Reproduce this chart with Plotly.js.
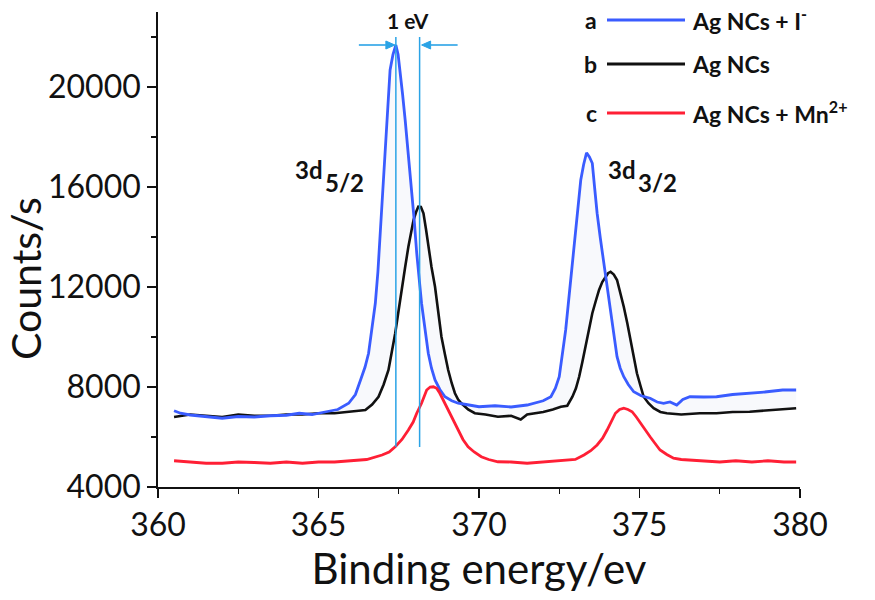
<!DOCTYPE html>
<html>
<head>
<meta charset="utf-8">
<script src="https://cdn.plot.ly/plotly-3.0.1.min.js"></script>
<style>
  html, body { margin: 0; padding: 0; background: #fff; }
  #chart { width: 875px; height: 600px; }
</style>
</head>
<body>
<div id="chart"></div>
<script>
// ---- Data ----
const xA = [360.5, 360.7, 361.0, 361.5, 362.0, 362.5, 363.0, 363.5, 364.0, 364.4, 364.8, 365.2, 365.6, 365.94, 366.15, 366.31, 366.45, 366.56, 366.67, 366.77, 366.85, 366.92, 367.0, 367.08, 367.16, 367.23, 367.32, 367.41, 367.48, 367.54, 367.62, 367.70, 367.80, 367.90, 367.98, 368.06, 368.13, 368.21, 368.32, 368.42, 368.52, 368.63, 368.78, 368.94, 369.15, 369.35, 369.6, 370.0, 370.5, 371.0, 371.5, 372.0, 372.24, 372.38, 372.50, 372.60, 372.70, 372.78, 372.86, 372.94, 373.01, 373.09, 373.17, 373.26, 373.35, 373.44, 373.53, 373.60, 373.68, 373.78, 373.89, 374.0, 374.10, 374.20, 374.30, 374.40, 374.51, 374.65, 374.82, 375.05, 375.33, 375.55, 375.75, 375.95, 376.16, 376.35, 376.57, 377.0, 377.4, 377.9, 378.43, 378.9, 379.46, 379.88];
const yA = [7050, 6950, 6880, 6800, 6750, 6820, 6800, 6850, 6870, 6950, 6900, 7000, 7100, 7350, 7700, 8280, 8800, 9350, 10300, 11350, 12600, 14000, 15700, 17350, 19000, 20680, 21300, 21680, 21300, 20680, 19700, 18680, 17350, 16000, 14700, 13350, 12300, 11350, 10300, 9350, 8750, 8280, 7900, 7610, 7450, 7350, 7300, 7210, 7250, 7200, 7280, 7450, 7610, 7950, 8410, 9300, 10280, 11300, 12280, 13300, 14280, 15300, 16280, 16900, 17370, 17200, 16950, 16000, 14950, 13950, 12950, 11900, 10950, 10000, 9210, 8750, 8410, 8100, 7810, 7650, 7550, 7400, 7350, 7400, 7280, 7500, 7610, 7600, 7610, 7700, 7750, 7800, 7880, 7880];

const xB = [360.5, 361.0, 361.5, 362.0, 362.5, 363.0, 363.5, 364.0, 364.5, 365.0, 365.5, 366.0, 366.25, 366.46, 366.67, 366.87, 367.03, 367.18, 367.29, 367.39, 367.50, 367.60, 367.70, 367.80, 367.88, 367.96, 368.04, 368.11, 368.19, 368.27, 368.35, 368.42, 368.52, 368.63, 368.73, 368.83, 368.94, 369.04, 369.15, 369.25, 369.35, 369.45, 369.66, 369.87, 370.2, 370.59, 371.0, 371.3, 371.5, 371.72, 372.0, 372.3, 372.55, 372.75, 372.91, 373.02, 373.12, 373.22, 373.32, 373.43, 373.53, 373.64, 373.74, 373.84, 373.94, 374.02, 374.10, 374.20, 374.30, 374.40, 374.51, 374.62, 374.72, 374.82, 374.92, 375.03, 375.13, 375.28, 375.44, 375.65, 375.85, 376.3, 376.88, 377.4, 377.9, 378.43, 378.9, 379.4, 379.88];
const yB = [6800, 6900, 6850, 6800, 6900, 6850, 6850, 6900, 6900, 6950, 6950, 7000, 7050, 7080, 7300, 7610, 8100, 8680, 9400, 10150, 11100, 12010, 12800, 13610, 14200, 14680, 15000, 15210, 15200, 14950, 14300, 13610, 12800, 12010, 11000, 10010, 9300, 8680, 8150, 7750, 7500, 7350, 7100, 6950, 6900, 6810, 6850, 6700, 6900, 6950, 7000, 7100, 7210, 7250, 7610, 7950, 8410, 9000, 9610, 10300, 10950, 11450, 11880, 12200, 12410, 12550, 12610, 12500, 12280, 11800, 11210, 10550, 9880, 9200, 8550, 8050, 7610, 7350, 7150, 7000, 6950, 6900, 6950, 6950, 7000, 7010, 7050, 7100, 7150];

const xC = [360.5, 361.0, 361.5, 362.0, 362.5, 363.0, 363.5, 364.0, 364.5, 365.0, 365.5, 366.0, 366.5, 366.98, 367.2, 367.39, 367.6, 367.80, 367.95, 368.06, 368.21, 368.37, 368.48, 368.58, 368.68, 368.78, 368.9, 369.04, 369.2, 369.35, 369.5, 369.66, 369.85, 370.07, 370.3, 370.59, 371.0, 371.5, 372.0, 372.4, 372.75, 373.0, 373.27, 373.48, 373.68, 373.85, 373.99, 374.12, 374.25, 374.38, 374.51, 374.64, 374.77, 374.9, 375.03, 375.18, 375.33, 375.48, 375.64, 375.85, 376.06, 376.3, 376.57, 377.0, 377.5, 378.0, 378.5, 379.0, 379.5, 379.88];
const yC = [5050, 5000, 4950, 4950, 5000, 4980, 4950, 5000, 4950, 5000, 5000, 5050, 5100, 5280, 5400, 5610, 5900, 6280, 6600, 6950, 7350, 7880, 8000, 8010, 7950, 7750, 7450, 7080, 6700, 6280, 5900, 5610, 5400, 5210, 5100, 5010, 5000, 4950, 5000, 5050, 5080, 5100, 5280, 5450, 5680, 5950, 6280, 6650, 6950, 7100, 7150, 7100, 7010, 6800, 6550, 6300, 6010, 5750, 5480, 5300, 5150, 5100, 5080, 5050, 5000, 5050, 5000, 5050, 5000, 5000];

const seriesLetters = ['a', 'b', 'c'];
const seriesNames = ['Ag NCs + I<sup>-</sup>', 'Ag NCs', 'Ag NCs + Mn<sup>2+</sup>'];
const seriesColors = ['#3a5cff', '#111111', '#ff1f35'];

// peak positions marked by the vertical guide lines (eV) and shift label
const shiftLines = [367.41, 368.15];
const shiftLineSpan = [5600, 22000];
const shiftLabel = '1 eV';
const peakLabels = [
  { main: '3d', sub: '5/2', x: 364.22, xs: 365.15 },
  { main: '3d', sub: '3/2', x: 373.97, xs: 374.9 }
];

const xTicks = [360, 365, 370, 375, 380];
const yTicks = [4000, 8000, 12000, 16000, 20000];
const xTitle = 'Binding energy/ev';
const yTitle = 'Counts/s';

// ---- Traces ----
const traces = [
  { x: xB, y: yB, type: 'scatter', mode: 'lines', name: seriesNames[1],
    line: { color: seriesColors[1], width: 2.6 } },
  { x: xA, y: yA, type: 'scatter', mode: 'lines', name: seriesNames[0],
    line: { color: seriesColors[0], width: 2.8 }, fill: 'tonexty',
    fillcolor: 'rgba(175,185,225,0.09)' },
  { x: xC, y: yC, type: 'scatter', mode: 'lines', name: seriesNames[2],
    line: { color: seriesColors[2], width: 2.8 } }
];

const FONT = 'Lato, "Open Sans", "DejaVu Sans", sans-serif';
const guideColor = '#2aa3e6';

const W = 875, H = 600, ML = 158, MR = 75, MT = 12, MB = 113;
const XR = [360, 380], YR = [4000, 23000];
const pw = W - ML - MR, ph = H - MT - MB;
function px2paperX(p) { return (p - ML) / pw; }
function px2paperY(p) { return (H - MB - p) / ph; }

const shapes = [];
const annotations = [];

// vertical guide lines
shiftLines.forEach(function (xv) {
  shapes.push({ type: 'line', xref: 'x', yref: 'y', x0: xv, x1: xv,
    y0: shiftLineSpan[0], y1: shiftLineSpan[1],
    line: { color: guideColor, width: 1.5 } });
});

// horizontal arrows pointing at the guide lines (drawn in paper space)
function arrowShapes(tipPx, tailPx, yPx) {
  const dir = tipPx > tailPx ? 1 : -1;
  const headLen = 9, headHalf = 4;
  const basePx = tipPx - dir * headLen;
  const yy = px2paperY(yPx);
  shapes.push({ type: 'line', xref: 'paper', yref: 'paper',
    x0: px2paperX(tailPx), x1: px2paperX(basePx), y0: yy, y1: yy,
    line: { color: guideColor, width: 1.6 } });
  const p = 'M ' + px2paperX(tipPx) + ' ' + yy +
            ' L ' + px2paperX(basePx) + ' ' + px2paperY(yPx - headHalf) +
            ' L ' + px2paperX(basePx) + ' ' + px2paperY(yPx + headHalf) + ' Z';
  shapes.push({ type: 'path', xref: 'paper', yref: 'paper', path: p,
    fillcolor: guideColor, line: { color: guideColor, width: 1 } });
}
function dataToPx(x) { return ML + (x - XR[0]) / (XR[1] - XR[0]) * pw; }
arrowShapes(dataToPx(shiftLines[0]) - 1, dataToPx(shiftLines[0]) - 37, 45);
arrowShapes(dataToPx(shiftLines[1]) + 2, dataToPx(shiftLines[1]) + 38, 45);

annotations.push({ xref: 'x', yref: 'y', x: (shiftLines[0] + shiftLines[1]) / 2, y: 22650,
  text: '<b>' + shiftLabel + '</b>', showarrow: false, xanchor: 'center', yanchor: 'middle',
  font: { family: FONT, size: 21, color: '#111' } });

// peak labels
peakLabels.forEach(function (p) {
  annotations.push({ xref: 'x', yref: 'y', x: p.x, y: 16720, text: '<b>' + p.main + '</b>',
    showarrow: false, xanchor: 'left', yanchor: 'middle',
    font: { family: FONT, size: 24, color: '#111' } });
  annotations.push({ xref: 'x', yref: 'y', x: p.xs, y: 16180, text: '<b>' + p.sub + '</b>',
    showarrow: false, xanchor: 'left', yanchor: 'middle',
    font: { family: FONT, size: 24, color: '#111' } });
});

// legend (drawn manually to match the letter + long line layout)
const legendRowsPx = [20, 64, 113];
seriesLetters.forEach(function (L, i) {
  const yy = px2paperY(legendRowsPx[i]);
  annotations.push({ xref: 'paper', yref: 'paper', x: px2paperX(599), y: yy,
    text: '<b>' + L + '</b>', showarrow: false, xanchor: 'right', yanchor: 'middle',
    font: { family: FONT, size: 23, color: '#111' } });
  shapes.push({ type: 'line', xref: 'paper', yref: 'paper',
    x0: px2paperX(607), x1: px2paperX(685), y0: yy, y1: yy,
    line: { color: seriesColors[i], width: 3 } });
  annotations.push({ xref: 'paper', yref: 'paper', x: px2paperX(690), y: yy,
    text: '<b>' + seriesNames[i] + '</b>', showarrow: false, xanchor: 'left', yanchor: 'middle',
    font: { family: FONT, size: 23, color: '#111' } });
});

// y axis title placed as a rotated annotation (reference sits lower than the plot centre)
annotations.push({ xref: 'paper', yref: 'paper', x: px2paperX(26), y: px2paperY(279),
  text: yTitle, textangle: -90, showarrow: false, xanchor: 'center', yanchor: 'middle',
  font: { family: FONT, size: 41, color: '#111' } });

const layout = {
  width: W, height: H,
  margin: { l: ML, r: MR, t: MT, b: MB, pad: 0 },
  paper_bgcolor: '#ffffff', plot_bgcolor: '#ffffff',
  showlegend: false,
  font: { family: FONT, color: '#111' },
  xaxis: {
    range: XR, tickvals: xTicks, ticktext: xTicks.map(String),
    showgrid: false, zeroline: false, showline: true, linecolor: '#111', linewidth: 1.8,
    ticks: 'outside', ticklen: 9, tickwidth: 1.6, tickcolor: '#111',
    minor: { dtick: 2.5, tick0: 360, ticks: 'outside', ticklen: 5, tickwidth: 1.4, tickcolor: '#111', showgrid: false },
    tickfont: { family: FONT, size: 32, color: '#111' },
    title: { text: xTitle, font: { family: FONT, size: 42, color: '#111' }, standoff: 6 },
    mirror: false
  },
  yaxis: {
    range: YR, tickvals: yTicks, ticktext: yTicks.map(String),
    showgrid: false, zeroline: false, showline: true, linecolor: '#111', linewidth: 1.8,
    ticks: 'outside', ticklen: 9, tickwidth: 1.6, tickcolor: '#111',
    minor: { dtick: 2000, tick0: 4000, ticks: 'outside', ticklen: 5, tickwidth: 1.4, tickcolor: '#111', showgrid: false },
    tickfont: { family: FONT, size: 32, color: '#111' },
    mirror: false
  },
  shapes: shapes,
  annotations: annotations
};

Plotly.newPlot('chart', traces, layout, { displayModeBar: false, staticPlot: true });
</script>
</body>
</html>
